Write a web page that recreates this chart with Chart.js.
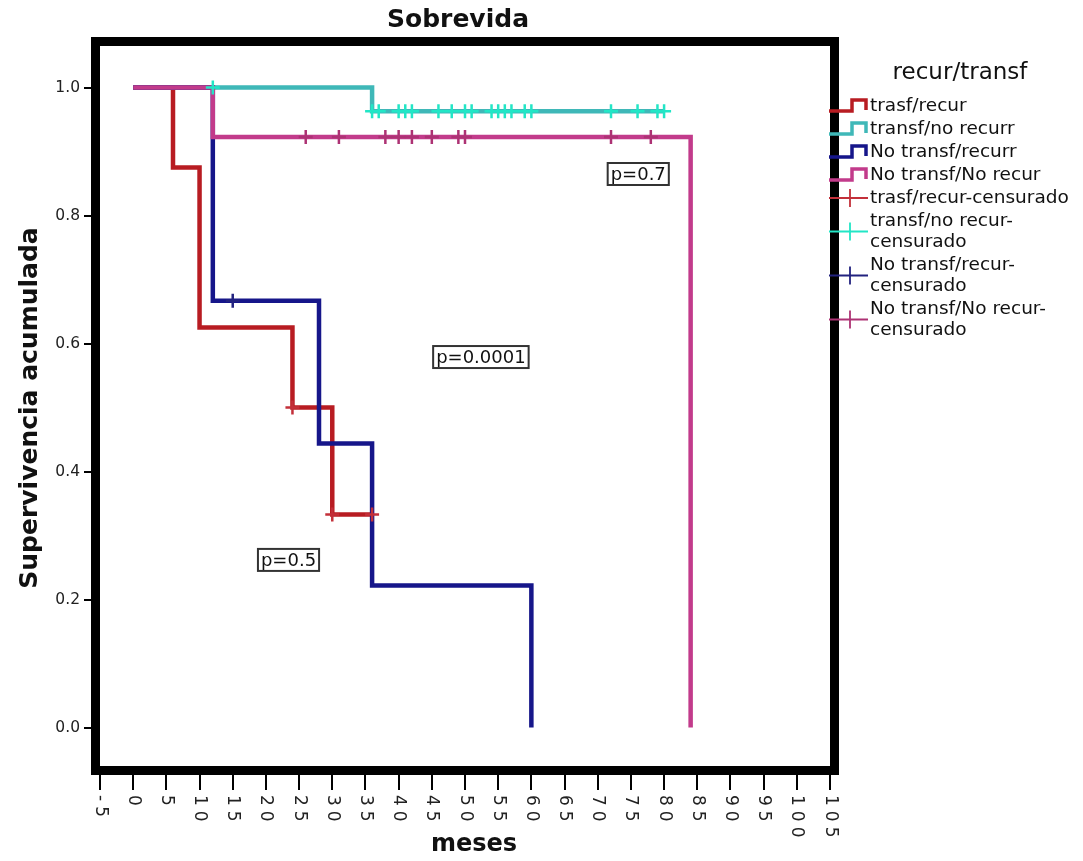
<!DOCTYPE html>
<html>
<head>
<meta charset="utf-8">
<script src="https://cdn.jsdelivr.net/npm/chart.js@4.4.1/dist/chart.umd.min.js"></script>
<style>
  html, body { margin: 0; padding: 0; background: #fff; }
  #wrap { position: relative; width: 1083px; height: 861px; }
</style>
</head>
<body>
<div id="wrap"><canvas id="km" width="1083" height="861"></canvas></div>
<script>
// groups and legend texts
const groups = ['trasf/recur', 'transf/no recurr', 'No transf/recurr', 'No transf/No recur'];
const censorLabels = [
    ['trasf/recur-censurado'],
    ['transf/no recur-', 'censurado'],
    ['No transf/recur-', 'censurado'],
    ['No transf/No recur-', 'censurado']
];
const xTicks = [-5, 0, 5, 10, 15, 20, 25, 30, 35, 40, 45, 50, 55, 60, 65, 70, 75, 80, 85, 90, 95, 100, 105];
const yTicks = [0, 0.2, 0.4, 0.6, 0.8, 1.0];

// Kaplan-Meier steps (months, cumulative survival)
const redTimes = [0, 6, 10, 24, 30, 36];
const redSurv = [1, 0.875, 0.625, 0.5, 0.333, 0.333];
const redCensored = [24, 30, 36];

const cyanTimes = [0, 36, 80];
const cyanSurv = [1, 0.963, 0.963];
const cyanCensored = [12, 36, 37, 40, 41, 42, 46, 48, 50, 51, 54, 55, 56, 57, 59, 60, 72, 76, 79, 80];

const blueTimes = [0, 12, 28, 36, 60];
const blueSurv = [1, 0.667, 0.444, 0.222, 0];
const blueCensored = [15];

const magTimes = [0, 12, 84];
const magSurv = [1, 0.923, 0];
const magCensored = [26, 31, 38, 40, 42, 45, 49, 50, 72, 78];

// p-value notes placed in data coordinates (left edge, centre)
const notes = [
    { text: 'p=0.7', x: 71.5, y: 0.865 },
    { text: 'p=0.0001', x: 45.2, y: 0.579 },
    { text: 'p=0.5', x: 18.8, y: 0.262 }
];

const lineColors = ['#b81c22', '#3fb8b8', '#16168a', '#c23b8b'];
const censorColors = ['#c3303a', '#22e6c6', '#22227f', '#ad3274'];

function steps(times, surv) {
    return times.map((t, i) => ({ x: t, y: surv[i] }));
}

function survAt(times, surv, t) {
    let s = surv[0];
    for (let i = 0; i < times.length; i++) {
        if (times[i] <= t) s = surv[i];
    }
    return s;
}

function marks(times, surv, censored) {
    return censored.map(t => ({ x: t, y: survAt(times, surv, t) }));
}

const curves = [
    [redTimes, redSurv, redCensored],
    [cyanTimes, cyanSurv, cyanCensored],
    [blueTimes, blueSurv, blueCensored],
    [magTimes, magSurv, magCensored]
];
// drawing order: magenta on top, then blue, cyan, red
const lineOrder = [4, 3, 2, 1];

const datasets = [];
curves.forEach((c, i) => {
    datasets.push({
        label: groups[i],
        data: steps(c[0], c[1]),
        showLine: true,
        stepped: 'before',
        borderColor: lineColors[i],
        borderWidth: 4.5,
        pointRadius: 0,
        fill: false,
        order: lineOrder[i] + 4
    });
});
curves.forEach((c, i) => {
    datasets.push({
        label: censorLabels[i].join(''),
        data: marks(c[0], c[1], c[2]),
        showLine: false,
        pointStyle: 'cross',
        pointRadius: 7,
        pointBorderWidth: 2.5,
        pointBorderColor: censorColors[i],
        pointBackgroundColor: censorColors[i],
        order: lineOrder[i]
    });
});

const decorations = {
    id: 'decorations',
    afterDraw(chart) {
        const ctx = chart.ctx;
        const a = chart.chartArea;
        const xs = chart.scales.x;
        const ys = chart.scales.y;
        ctx.save();

        // frame
        ctx.strokeStyle = '#000';
        ctx.lineWidth = 9;
        ctx.strokeRect(a.left - 4.5, a.top - 4.5, a.right - a.left + 9, a.bottom - a.top + 9);

        // x tick labels, rotated clockwise
        ctx.fillStyle = '#222';
        ctx.font = '17px "DejaVu Sans"';
        ctx.letterSpacing = '5px';
        ctx.textAlign = 'left';
        ctx.textBaseline = 'middle';
        xTicks.forEach(v => {
            ctx.save();
            ctx.translate(xs.getPixelForValue(v), a.bottom + 29);
            ctx.rotate(Math.PI / 2);
            ctx.fillText(String(v), 0, 0);
            ctx.restore();
        });
        ctx.letterSpacing = '0px';

        // titles
        ctx.fillStyle = '#111';
        ctx.textAlign = 'center';
        ctx.font = 'bold 25px "DejaVu Sans"';
        ctx.fillText('Sobrevida', 458, 20);
        ctx.save();
        ctx.translate(30, 408);
        ctx.rotate(-Math.PI / 2);
        ctx.fillText('Supervivencia acumulada', 0, 0);
        ctx.restore();
        ctx.font = 'bold 24px "DejaVu Sans"';
        ctx.fillText('meses', 474, 845);

        // p-value boxes
        ctx.font = '18px "DejaVu Sans"';
        ctx.textAlign = 'left';
        notes.forEach(n => {
            const px = xs.getPixelForValue(n.x);
            const py = ys.getPixelForValue(n.y);
            const w = ctx.measureText(n.text).width + 6;
            ctx.fillStyle = '#fff';
            ctx.fillRect(px, py - 11, w, 22);
            ctx.strokeStyle = '#333';
            ctx.lineWidth = 2;
            ctx.strokeRect(px, py - 11, w, 22);
            ctx.fillStyle = '#111';
            ctx.fillText(n.text, px + 3, py + 1);
        });

        // legend
        ctx.fillStyle = '#111';
        ctx.textAlign = 'center';
        ctx.font = '23px "DejaVu Sans"';
        ctx.fillText('recur/transf', 960, 73);
        ctx.textAlign = 'left';
        ctx.font = '18.5px "DejaVu Sans"';
        let y = 106;
        groups.forEach((g, i) => {
            ctx.strokeStyle = lineColors[i];
            ctx.lineWidth = 3.5;
            ctx.beginPath();
            ctx.moveTo(829, y + 5);
            ctx.lineTo(852, y + 5);
            ctx.lineTo(852, y - 6);
            ctx.lineTo(866, y - 6);
            ctx.lineTo(866, y + 4);
            ctx.stroke();
            ctx.fillStyle = '#111';
            ctx.fillText(g, 870, y);
            y += 23;
        });
        censorLabels.forEach((lines, i) => {
            const mid = y + (lines.length - 1) * 10.5;
            ctx.strokeStyle = censorColors[i];
            ctx.lineWidth = 1.8;
            ctx.beginPath();
            ctx.moveTo(829, mid);
            ctx.lineTo(868, mid);
            ctx.moveTo(850, mid - 9);
            ctx.lineTo(850, mid + 9);
            ctx.stroke();
            ctx.fillStyle = '#111';
            lines.forEach((t, k) => ctx.fillText(t, 870, y + k * 21));
            y += (lines.length - 1) * 21 + 23;
        });
        ctx.restore();
    }
};

new Chart(document.getElementById('km'), {
    type: 'scatter',
    data: { datasets: datasets },
    options: {
        responsive: false,
        animation: false,
        layout: { padding: { left: 0, top: 46, right: 253, bottom: 0 } },
        plugins: {
            legend: { display: false },
            title: { display: false },
            tooltip: { enabled: false }
        },
        scales: {
            x: {
                type: 'linear',
                min: -5,
                max: 105,
                afterBuildTicks: axis => { axis.ticks = xTicks.map(v => ({ value: v })); },
                afterFit: axis => { axis.height = 95; },
                border: { display: false },
                grid: { drawOnChartArea: false, drawTicks: true, tickLength: 24, color: '#000', lineWidth: 2 },
                ticks: { color: 'rgba(0,0,0,0)', autoSkip: false, maxRotation: 0, font: { size: 10 } }
            },
            y: {
                type: 'linear',
                min: -0.06,
                max: 1.065,
                afterBuildTicks: axis => { axis.ticks = yTicks.map(v => ({ value: v })); },
                afterFit: axis => { axis.width = 100; },
                border: { display: false },
                grid: { drawOnChartArea: false, drawTicks: true, tickLength: 16, color: '#000', lineWidth: 2 },
                ticks: {
                    padding: 4,
                    color: '#222',
                    font: { family: 'DejaVu Sans', size: 15.5 },
                    callback: v => Number(v).toFixed(1)
                }
            }
        }
    },
    plugins: [decorations]
});
</script>
</body>
</html>
